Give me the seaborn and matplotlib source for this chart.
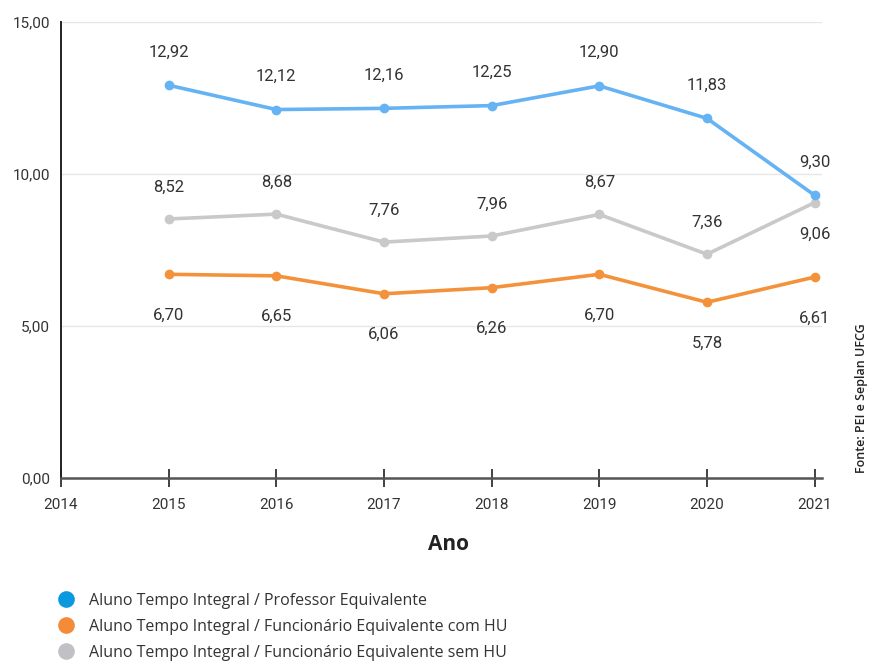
import numpy as np
import pandas as pd
import matplotlib
matplotlib.use("Agg")
import matplotlib.pyplot as plt
import seaborn as sns
from matplotlib.lines import Line2D

anos = [2015, 2016, 2017, 2018, 2019, 2020, 2021]
professor = [12.92, 12.12, 12.16, 12.25, 12.90, 11.83, 9.30]
func_com_hu = [6.70, 6.65, 6.06, 6.26, 6.70, 5.78, 6.61]
func_sem_hu = [8.52, 8.68, 7.76, 7.96, 8.67, 7.36, 9.06]

series_names = [
    "Aluno Tempo Integral / Professor Equivalente",
    "Aluno Tempo Integral / Funcionário Equivalente com HU",
    "Aluno Tempo Integral / Funcionário Equivalente sem HU",
]
line_colors = ["#66b3f4", "#f4923c", "#c9c9c9"]
legend_colors = ["#0a98df", "#f58a37", "#c1c1c5"]
x_ticks = [2014, 2015, 2016, 2017, 2018, 2019, 2020, 2021]
y_ticks = [0, 5, 10, 15]

df = pd.DataFrame({
    "Ano": anos * 3,
    "valor": professor + func_com_hu + func_sem_hu,
    "serie": [series_names[0]] * len(anos) + [series_names[1]] * len(anos) + [series_names[2]] * len(anos),
})

sns.set_theme(style="white")
plt.rcParams["font.family"] = ["Roboto", "DejaVu Sans"]

fig = plt.figure(figsize=(8.7, 6.61), dpi=100)
ax = fig.add_axes([0.0701, 0.2769, 0.8749, 0.6898])

# grid lines drawn behind the series
for yv in [5, 10, 15]:
    ax.axhline(yv, color="#e6e6e6", lw=1.0, zorder=0)

# gray first so the blue and orange sit on top
order = [series_names[2], series_names[1], series_names[0]]
pal = dict(zip(series_names, line_colors))
for name in order:
    sub = df[df["serie"] == name]
    sns.lineplot(data=sub, x="Ano", y="valor", color=pal[name], lw=2.6,
                 marker="o", markersize=7, markeredgewidth=0, ax=ax,
                 legend=False, zorder=3)

def fmt(v):
    return f"{v:.2f}".replace(".", ",")

label_kw = dict(ha="center", va="center", fontsize=12, color="#333333")
for x, v in zip(anos, professor):
    ax.annotate(fmt(v), (x, v), xytext=(0, 24), textcoords="offset points", **label_kw)
for x, v in zip(anos, func_sem_hu):
    dy = -23 if x == 2021 else 23
    ax.annotate(fmt(v), (x, v), xytext=(0, dy), textcoords="offset points", **label_kw)
for x, v in zip(anos, func_com_hu):
    ax.annotate(fmt(v), (x, v), xytext=(0, -29.5), textcoords="offset points", **label_kw)

ax.set_xlim(2014, 2021.07)
ax.set_ylim(0, 15)
ax.set_xticks(x_ticks)
ax.set_xticklabels([str(t) for t in x_ticks])
ax.set_yticks(y_ticks)
ax.set_yticklabels([fmt(t) for t in y_ticks])
ax.tick_params(axis="x", direction="inout", length=13, width=1.3, color="#333333",
               labelsize=11, labelcolor="#333333", pad=8, bottom=True)
ax.tick_params(axis="y", length=0, labelsize=11, labelcolor="#333333", pad=8)

for side in ["top", "right"]:
    ax.spines[side].set_visible(False)
ax.spines["left"].set_color("#222222")
ax.spines["left"].set_linewidth(1.4)
ax.spines["bottom"].set_color("#555555")
ax.spines["bottom"].set_linewidth(1.8)
ax.set_xlabel("")
ax.set_ylabel("")

fig.text(449 / 870, 1 - 545 / 661, "Ano", ha="center", va="center",
         fontsize=15, fontweight="bold", color="#222222", family=["Open Sans", "DejaVu Sans"])

fig.text(862 / 870, 1 - 398 / 661, "Fonte: PEI e Seplan UFCG", rotation=90,
         ha="center", va="center", fontsize=9, fontweight="semibold", color="#222222",
         family=["Open Sans", "DejaVu Sans"])

handles = [Line2D([], [], ls="", marker="o", markersize=12, markeredgewidth=0, color=c)
           for c in legend_colors]
fig.legend(handles, series_names, loc="upper left", bbox_to_anchor=(0.067, 1 - 593 / 661),
           frameon=False, handletextpad=0.9, labelspacing=0.62, handlelength=1.0,
           prop={"family": ["Open Sans", "DejaVu Sans"], "size": 11.5}, labelcolor="#333333",
           borderaxespad=0, borderpad=0)

fig.savefig("out.png", dpi=100)
